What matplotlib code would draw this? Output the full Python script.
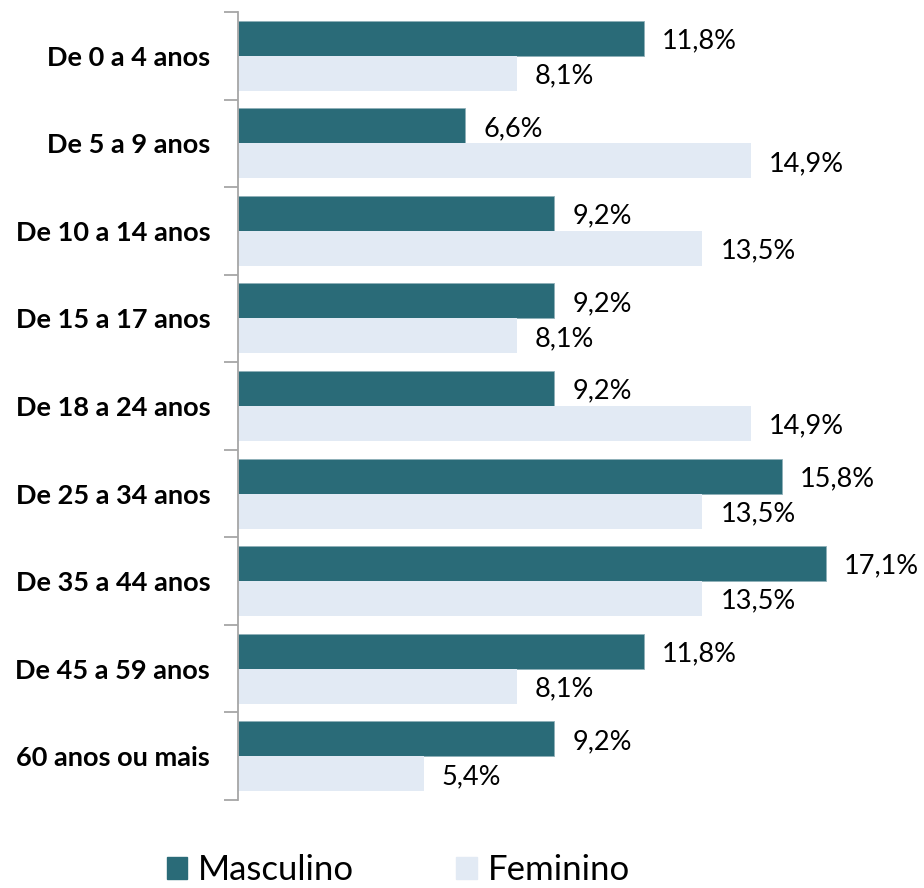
#!/usr/bin/env python3
"""Horizontal grouped bar chart: distribution by age group and sex."""
import matplotlib
matplotlib.use("Agg")
import matplotlib.pyplot as plt
from matplotlib.patches import Patch

categories = [
    "De 0 a 4 anos",
    "De 5 a 9 anos",
    "De 10 a 14 anos",
    "De 15 a 17 anos",
    "De 18 a 24 anos",
    "De 25 a 34 anos",
    "De 35 a 44 anos",
    "De 45 a 59 anos",
    "60 anos ou mais",
]
masculino = [11.8, 6.6, 9.2, 9.2, 9.2, 15.8, 17.1, 11.8, 9.2]
feminino = [8.1, 14.9, 13.5, 8.1, 14.9, 13.5, 13.5, 8.1, 5.4]
series_names = ["Masculino", "Feminino"]

DARK = "#2A6B78"
LIGHT = "#E2EAF4"

plt.rcParams["font.family"] = ["Lato", "DejaVu Sans"]

W, H = 924, 888
fig = plt.figure(figsize=(W / 100, H / 100), dpi=100)
left, right, top, bottom = 238, 905, 12, 800
ax = fig.add_axes([left / W, 1 - bottom / H, (right - left) / W, (bottom - top) / H])

n = len(categories)
bh = 0.4
ypos = list(range(n))
ax.barh([y - bh / 2 for y in ypos], masculino, height=bh, color=DARK, edgecolor="#8FB0B8", linewidth=0.6)
ax.barh([y + bh / 2 for y in ypos], feminino, height=bh, color=LIGHT, edgecolor=LIGHT, linewidth=0)

ax.set_ylim(n - 0.5, -0.5)
xmax = (right - left) / 34.4
ax.set_xlim(0, xmax)

pad = 18 / 34.4
for y, v in zip(ypos, masculino):
    ax.text(v + pad, y - bh / 2 + 0.03, f"{v:.1f}%".replace(".", ","), va="center", ha="left",
            fontsize=19.5, color="black", clip_on=False)
for y, v in zip(ypos, feminino):
    ax.text(v + pad, y + bh / 2 + 0.03, f"{v:.1f}%".replace(".", ","), va="center", ha="left",
            fontsize=19.5, color="black", clip_on=False)

for s in ["top", "right", "bottom"]:
    ax.spines[s].set_visible(False)
ax.spines["left"].set_color("#A6A6A6")
ax.spines["left"].set_linewidth(1.3)
ax.set_xticks([])
ax.set_yticks(ypos)
ax.set_yticklabels(categories, fontsize=19.5, fontweight="bold")
ax.tick_params(axis="y", length=0, pad=20)
# category boundary ticks
ax.set_yticks([y - 0.5 for y in ypos] + [n - 0.5], minor=True)
ax.tick_params(axis="y", which="minor", length=10, width=1.3, color="#A6A6A6")

handles = [Patch(facecolor=DARK, edgecolor=DARK), Patch(facecolor=LIGHT, edgecolor=LIGHT)]
fig.legend(handles, series_names, loc="center", bbox_to_anchor=(0.431, 1 - 870 / H), ncol=2,
           frameon=False, fontsize=25, handlelength=0.6, handleheight=0.6,
           handletextpad=0.3, columnspacing=2.95)

fig.savefig("out.png", dpi=100)
